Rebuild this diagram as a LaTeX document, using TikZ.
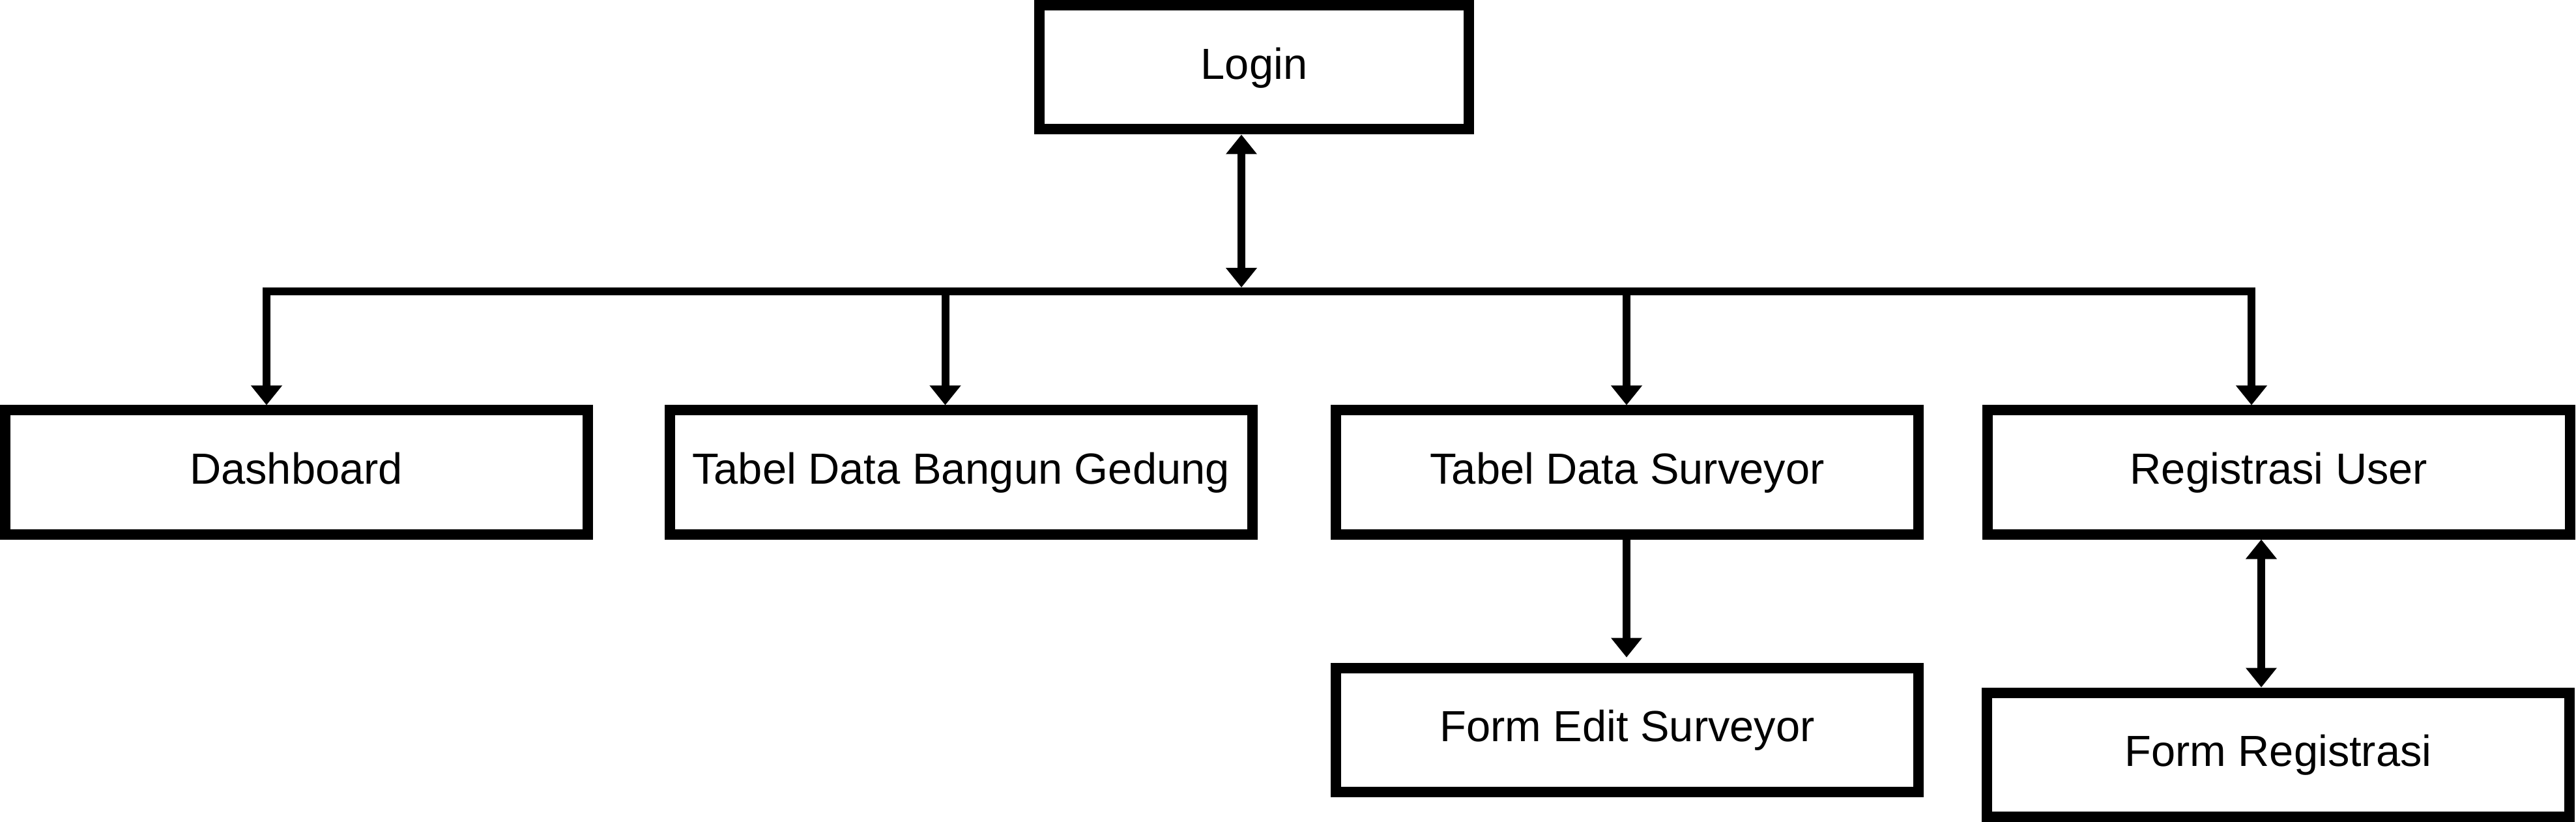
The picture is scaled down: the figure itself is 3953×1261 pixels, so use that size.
\documentclass[tikz,border=0pt]{standalone}
\usepackage{fontspec}
\setmainfont{Liberation Sans}
\usetikzlibrary{arrows.meta}
\begin{document}
\begin{tikzpicture}[x=0.25pt,y=-0.25pt,
  box/.style={draw,line width=4pt,rectangle,inner sep=0pt,minimum width=223.5pt,minimum height=47.5pt,text height=12pt,text depth=3pt,font=\fontsize{16.7pt}{20pt}\selectfont},
  conn/.style={line width=3pt},
  >={Triangle[length=7.5pt,width=11.5pt]}
]
\useasboundingbox (0,0) rectangle (3953,1261);
\node[box,minimum width=164.75pt] (login) at (1924.5,103.5) {Login};
\node[box] (dash) at (454.5,724.5) {Dashboard};
\node[box] (tdbg) at (1474.5,724.5) {Tabel Data Bangun Gedung};
\node[box] (tds) at (2497,724.5) {Tabel Data Surveyor};
\node[box] (ru) at (3497,724.5) {Registrasi User};
\node[box] (fes) at (2497,1119.5) {Form Edit Surveyor};
\node[box] (fr) at (3496,1157.5) {Form Registrasi};
% bus coordinates
\coordinate (j1) at (409,447);
\coordinate (j2) at (1450.5,447);
\coordinate (lx) at (1905,447);
\coordinate (lbus) at (1905,441);
\coordinate (j3) at (2496,447);
\coordinate (j4) at (3455,447);
\coordinate (rx) at (3470,900);
% connectors
\draw[conn,<->] (login.south -| lx) -- (lbus);
\draw[conn,<->] (dash.north -| j1) -- (j1) -- (j4) -- (ru.north -| j4);
\draw[conn,->] (j2) -- (tdbg.north -| j2);
\draw[conn,->] (j3) -- (tds.north -| j3);
\draw[conn,->,shorten >=2pt] (tds.south -| j3) -- (fes.north -| j3);
\draw[conn,<->] (ru.south -| rx) -- (fr.north -| rx);
\end{tikzpicture}
\end{document}
